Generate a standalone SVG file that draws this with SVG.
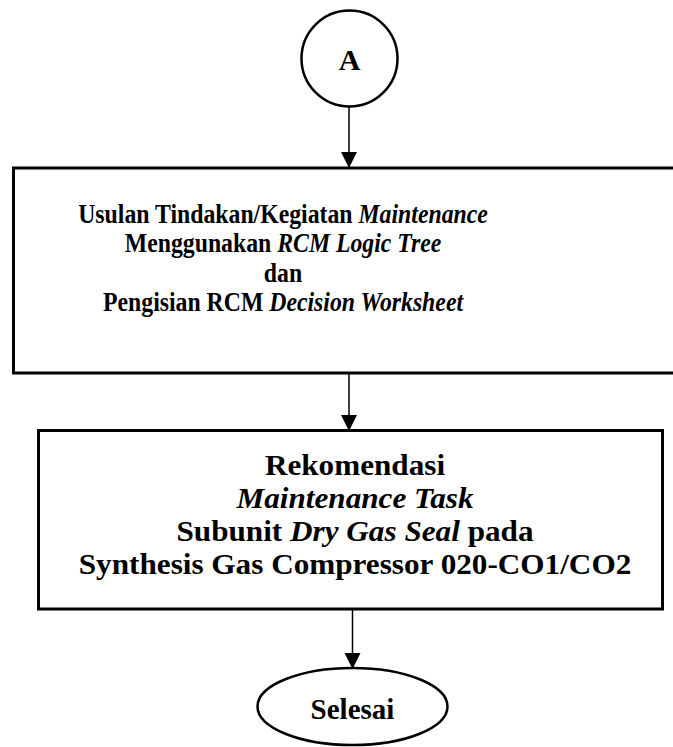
<svg xmlns="http://www.w3.org/2000/svg" width="673" height="747" viewBox="0 0 673 747">
<defs>
<marker id="arr" markerWidth="16" markerHeight="18" refX="15" refY="8" orient="auto" markerUnits="userSpaceOnUse" viewBox="0 0 16 16">
<path d="M0,0 L16,8 L0,16 Z" fill="#000"/>
</marker>
<style>
.shape{fill:#fff;stroke:#000;stroke-width:2.5}
.box{fill:#fff;stroke:#000;stroke-width:3}
.conn{stroke:#000;stroke-width:1.5;fill:none}
text{font-family:"Liberation Serif","Times New Roman",serif;font-weight:bold;fill:#000;text-anchor:middle}
.it{font-style:italic}
</style>
</defs>
<rect width="673" height="747" fill="#fff"/>
<g id="connectors">
<line class="conn" x1="349" y1="107" x2="349" y2="167" marker-end="url(#arr)"/>
<line class="conn" x1="349" y1="374" x2="349" y2="430" marker-end="url(#arr)"/>
<line class="conn" x1="352.5" y1="609" x2="352.5" y2="668" marker-end="url(#arr)"/>
</g>
<g id="nodeA">
<circle class="shape" cx="349.5" cy="58.5" r="48"/>
<text x="349.5" y="70" font-size="30">A</text>
</g>
<g id="node1">
<rect class="box" x="13.5" y="168" width="680" height="205"/>
<g transform="translate(283,0) scale(0.88,1)" font-size="27">
<text x="0" y="223">Usulan Tindakan/Kegiatan <tspan class="it">Maintenance</tspan></text>
<text x="0" y="252.5">Menggunakan <tspan class="it">RCM Logic Tree</tspan></text>
<text x="0" y="282">dan</text>
<text x="0" y="311">Pengisian RCM <tspan class="it">Decision Worksheet</tspan></text>
</g>
</g>
<g id="node2">
<rect class="box" x="38.5" y="430.5" width="624" height="178.5"/>
<g transform="translate(355,0) scale(1.04,1)" font-size="30">
<text x="0" y="475">Rekomendasi</text>
<text x="0" y="508" class="it">Maintenance Task</text>
<text x="0" y="541">Subunit <tspan class="it">Dry Gas Seal</tspan> pada</text>
<text x="0" y="574">Synthesis Gas Compressor 020-CO1/CO2</text>
</g>
</g>
<g id="nodeEnd">
<ellipse class="shape" cx="352.5" cy="706.5" rx="95" ry="38.5"/>
<text x="352.5" y="719" font-size="29">Selesai</text>
</g>
</svg>
